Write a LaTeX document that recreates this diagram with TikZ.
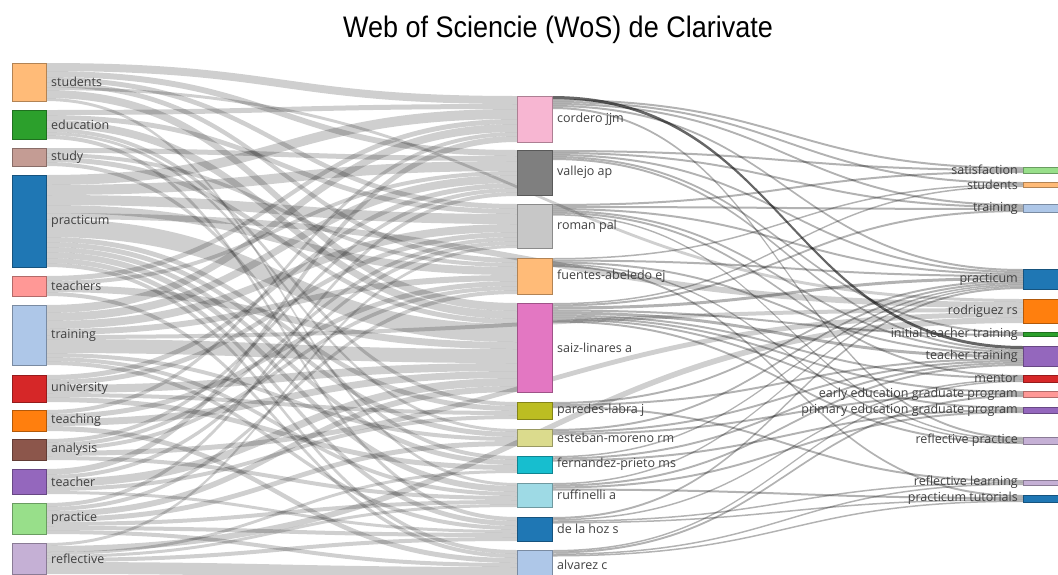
\documentclass[tikz,border=0pt]{standalone}
\usepackage{fontspec}
\newfontfamily\lblfont{Open Sans}
\newfontfamily\ttlfont{Liberation Sans}
\usetikzlibrary{calc}
\pgfdeclarelayer{bg}
\pgfsetlayers{bg,main}

\definecolor{blueD}{HTML}{1F77B4}\definecolor{blueL}{HTML}{AEC7E8}
\definecolor{orangeD}{HTML}{FF7F0E}\definecolor{orangeL}{HTML}{FFBB78}
\definecolor{greenD}{HTML}{2CA02C}\definecolor{greenL}{HTML}{98DF8A}
\definecolor{redD}{HTML}{D62728}\definecolor{redL}{HTML}{FF9896}
\definecolor{purpleD}{HTML}{9467BD}\definecolor{purpleL}{HTML}{C5B0D5}
\definecolor{brownD}{HTML}{8C564B}\definecolor{brownL}{HTML}{C49C94}
\definecolor{pinkD}{HTML}{E377C2}\definecolor{pinkL}{HTML}{F7B6D2}
\definecolor{greyD}{HTML}{7F7F7F}\definecolor{greyL}{HTML}{C7C7C7}
\definecolor{oliveD}{HTML}{BCBD22}\definecolor{oliveL}{HTML}{DBDB8D}
\definecolor{cyanD}{HTML}{17BECF}\definecolor{cyanL}{HTML}{9EDAE5}

\tikzset{
  box/.style={fill=#1, draw=#1!70!black, line width=0.5pt, inner sep=0pt,
    outer sep=0pt, anchor=north west},
  lbl/.style={font=\lblfont\fontsize{12.5}{14}\selectfont, text=black!75, inner sep=5pt},
  flow/.style={fill=black, fill opacity=0.19},
  thinflow/.style={fill=black, fill opacity=0.3},
  darkflow/.style={fill=black, fill opacity=0.6},
}

% running offsets of the bands on each node
\newcommand\getout[1]{\ifcsname fo@#1\endcsname\csname fo@#1\endcsname\else 0\fi}
\newcommand\getin[1]{\ifcsname fi@#1\endcsname\csname fi@#1\endcsname\else 0\fi}
\newcommand\flow[4][flow]{%
  \pgfmathsetmacro\so{\getout{#2}}%
  \pgfmathsetmacro\ti{\getin{#3}}%
  \fill[#1] let \p1=($(#2.north east)+(0,\so)$), \p2=($(#3.north west)+(0,\ti)$),
    \n1={0.5*(\x2-\x1)} in (\p1) .. controls +(\n1,0) and +(-\n1,0) .. (\p2)
    -- ++(0,#4) .. controls +(-\n1,0) and +(\n1,0) .. ($(\p1)+(0,#4)$) -- cycle;
  \pgfmathsetmacro\so{\so+#4}\expandafter\xdef\csname fo@#2\endcsname{\so}%
  \pgfmathsetmacro\ti{\ti+#4}\expandafter\xdef\csname fi@#3\endcsname{\ti}%
}

\begin{document}
\begin{tikzpicture}[x=1pt,y=-1pt]
\useasboundingbox (0,0) rectangle (1058,574);

\node[font=\ttlfont\fontsize{27}{30}\selectfont, yscale=1.1, anchor=base] (title)
  at (558,37) {Web of Sciencie (WoS) de Clarivate};

% keywords
\node[box=orangeL, minimum width=34pt, minimum height=38pt, label={[lbl]right:students}] (students) at (12,63) {};
\node[box=greenD, minimum width=34pt, minimum height=29pt, label={[lbl]right:education}] (education) at (12,110) {};
\node[box=brownL, minimum width=34pt, minimum height=18pt, label={[lbl]right:study}] (study) at (12,148) {};
\node[box=blueD, minimum width=34pt, minimum height=92pt, label={[lbl]right:practicum}] (practicum) at (12,175) {};
\node[box=redL, minimum width=34pt, minimum height=20pt, label={[lbl]right:teachers}] (teachers) at (12,276) {};
\node[box=blueL, minimum width=34pt, minimum height=60pt, label={[lbl]right:training}] (training) at (12,305) {};
\node[box=redD, minimum width=34pt, minimum height=27pt, label={[lbl]right:university}] (university) at (12,375) {};
\node[box=orangeD, minimum width=34pt, minimum height=21pt, label={[lbl]right:teaching}] (teaching) at (12,410) {};
\node[box=brownD, minimum width=34pt, minimum height=21pt, label={[lbl]right:analysis}] (analysis) at (12,439) {};
\node[box=purpleD, minimum width=34pt, minimum height=25pt, label={[lbl]right:teacher}] (teacher) at (12,469) {};
\node[box=greenL, minimum width=34pt, minimum height=31pt, label={[lbl]right:practice}] (practice) at (12,503) {};
\node[box=purpleL, minimum width=34pt, minimum height=31pt, label={[lbl]right:reflective}] (reflective) at (12,543) {};

% authors
\node[box=pinkL, minimum width=35pt, minimum height=46pt, label={[lbl]right:cordero jjm}] (cordero) at (517,96) {};
\node[box=greyD, minimum width=35pt, minimum height=45pt, label={[lbl]right:vallejo ap}] (vallejo) at (517,150) {};
\node[box=greyL, minimum width=35pt, minimum height=44pt, label={[lbl]right:roman pal}] (roman) at (517,204) {};
\node[box=orangeL, minimum width=35pt, minimum height=36pt, label={[lbl]right:fuentes-abeledo ej}] (fuentes) at (517,258) {};
\node[box=pinkD, minimum width=35pt, minimum height=89pt, label={[lbl]right:saiz-linares a}] (saiz) at (517,303) {};
\node[box=oliveD, minimum width=35pt, minimum height=17pt, label={[lbl]right:paredes-labra j}] (paredes) at (517,402) {};
\node[box=oliveL, minimum width=35pt, minimum height=17pt, label={[lbl]right:esteban-moreno rm}] (esteban) at (517,429) {};
\node[box=cyanD, minimum width=35pt, minimum height=17pt, label={[lbl]right:fernandez-prieto ms}] (fernandez) at (517,456) {};
\node[box=cyanL, minimum width=35pt, minimum height=24pt, label={[lbl]right:ruffinelli a}] (ruffinelli) at (517,483) {};
\node[box=blueD, minimum width=35pt, minimum height=24pt, label={[lbl]right:de la hoz s}] (delahoz) at (517,517) {};
\node[box=blueL, minimum width=35pt, minimum height=30pt, label={[lbl]right:alvarez c}] (alvarez) at (517,550) {};

% right column
\node[box=greenL, minimum width=36pt, minimum height=6pt, label={[lbl]left:satisfaction}] (rsatisf) at (1023,167) {};
\node[box=orangeL, minimum width=36pt, minimum height=5pt, label={[lbl]left:students}] (rstudents) at (1023,182) {};
\node[box=blueL, minimum width=36pt, minimum height=8pt, label={[lbl]left:training}] (rtraining) at (1023,204) {};
\node[box=blueD, minimum width=36pt, minimum height=20pt, label={[lbl]left:practicum}] (rpracticum) at (1023,269) {};
\node[box=orangeD, minimum width=36pt, minimum height=24pt, label={[lbl]left:rodriguez rs}] (rodriguez) at (1023,299) {};
\node[box=greenD, minimum width=36pt, minimum height=4pt, label={[lbl]left:initial teacher training}] (rinitial) at (1023,332) {};
\node[box=purpleD, minimum width=36pt, minimum height=20pt, label={[lbl]left:teacher training}] (rteacher) at (1023,346) {};
\node[box=redD, minimum width=36pt, minimum height=7pt, label={[lbl]left:mentor}] (rmentor) at (1023,375) {};
\node[box=redL, minimum width=36pt, minimum height=6pt, label={[lbl]left:early education graduate program}] (rearly) at (1023,391) {};
\node[box=purpleD, minimum width=36pt, minimum height=6pt, label={[lbl]left:primary education graduate program}] (rprimary) at (1023,407) {};
\node[box=purpleL, minimum width=36pt, minimum height=7pt, label={[lbl]left:reflective practice}] (rrefpract) at (1023,437) {};
\node[box=purpleL, minimum width=36pt, minimum height=5pt, label={[lbl]left:reflective learning}] (rreflearn) at (1023,480) {};
\node[box=blueD, minimum width=36pt, minimum height=7pt, label={[lbl]left:practicum tutorials}] (rtutorials) at (1023,495) {};

\begin{pgfonlayer}{bg}
% keywords -> authors
\foreach \s/\t/\w in {
  students/cordero/8, students/vallejo/6, students/roman/5, students/fuentes/5,
  students/rodriguez/3, students/saiz/8, students/ruffinelli/3,
  education/cordero/5, education/roman/5, education/saiz/8, education/paredes/4,
  education/esteban/3, education/delahoz/4,
  study/vallejo/5, study/fuentes/4, study/saiz/5, study/fernandez/4,
  practicum/cordero/10, practicum/vallejo/10, practicum/roman/10, practicum/fuentes/8,
  practicum/rodriguez/6, practicum/saiz/18, practicum/paredes/5, practicum/esteban/5,
  practicum/fernandez/5, practicum/ruffinelli/6, practicum/delahoz/5, practicum/alvarez/4,
  teachers/cordero/5, teachers/vallejo/4, teachers/saiz/7, teachers/alvarez/4,
  training/cordero/8, training/vallejo/8, training/roman/8, training/fuentes/6,
  training/rodriguez/4, training/saiz/14, training/esteban/4, training/ruffinelli/4,
  training/delahoz/4,
  university/vallejo/5, university/roman/5, university/saiz/8, university/paredes/4,
  university/fernandez/5,
  teaching/cordero/4, teaching/fuentes/5, teaching/saiz/7, teaching/alvarez/5,
  analysis/vallejo/4, analysis/roman/4, analysis/fuentes/4, analysis/rodriguez/5,
  analysis/ruffinelli/4,
  teacher/cordero/6, teacher/roman/4, teacher/saiz/8, teacher/paredes/4, teacher/delahoz/3,
  practice/vallejo/4, practice/fuentes/4, practice/saiz/6, practice/esteban/5,
  practice/ruffinelli/4, practice/delahoz/4, practice/alvarez/4,
  reflective/roman/3, reflective/rodriguez/6, reflective/fernandez/3,
  reflective/ruffinelli/3, reflective/delahoz/4, reflective/alvarez/12}
  {\flow{\s}{\t}{\w}}

% authors -> keywords
\flow[darkflow]{cordero}{rteacher}{3}
\foreach \s/\t/\w in {
  cordero/rsatisf/2, cordero/rstudents/2, cordero/rtraining/2, cordero/rpracticum/2,
  cordero/rrefpract/2,
  vallejo/rsatisf/2, vallejo/rtraining/2, vallejo/rpracticum/2, vallejo/rinitial/2,
  vallejo/rteacher/2,
  roman/rsatisf/2, roman/rtraining/2, roman/rpracticum/2, roman/rteacher/2,
  roman/rmentor/2, roman/rrefpract/1.5,
  fuentes/rstudents/1.5, fuentes/rpracticum/2, fuentes/rteacher/2, fuentes/rrefpract/1.5,
  fuentes/rtutorials/2,
  saiz/rstudents/1.5, saiz/rtraining/2, saiz/rpracticum/3, saiz/rinitial/2,
  saiz/rteacher/3, saiz/rmentor/2, saiz/rearly/2, saiz/rprimary/2, saiz/rrefpract/2,
  paredes/rpracticum/2, paredes/rteacher/2, paredes/rreflearn/2,
  esteban/rpracticum/2, esteban/rteacher/2, esteban/rearly/2,
  fernandez/rpracticum/1.5, fernandez/rteacher/2, fernandez/rprimary/2,
  ruffinelli/rpracticum/1.5, ruffinelli/rteacher/2, ruffinelli/rprimary/2,
  ruffinelli/rtutorials/2,
  delahoz/rpracticum/2, delahoz/rmentor/1.5, delahoz/rreflearn/1.5, delahoz/rtutorials/1.5,
  alvarez/rmentor/1.5, alvarez/rearly/2, alvarez/rreflearn/1.5, alvarez/rtutorials/1.5}
  {\flow[thinflow]{\s}{\t}{\w}}
\end{pgfonlayer}
\end{tikzpicture}
\end{document}
